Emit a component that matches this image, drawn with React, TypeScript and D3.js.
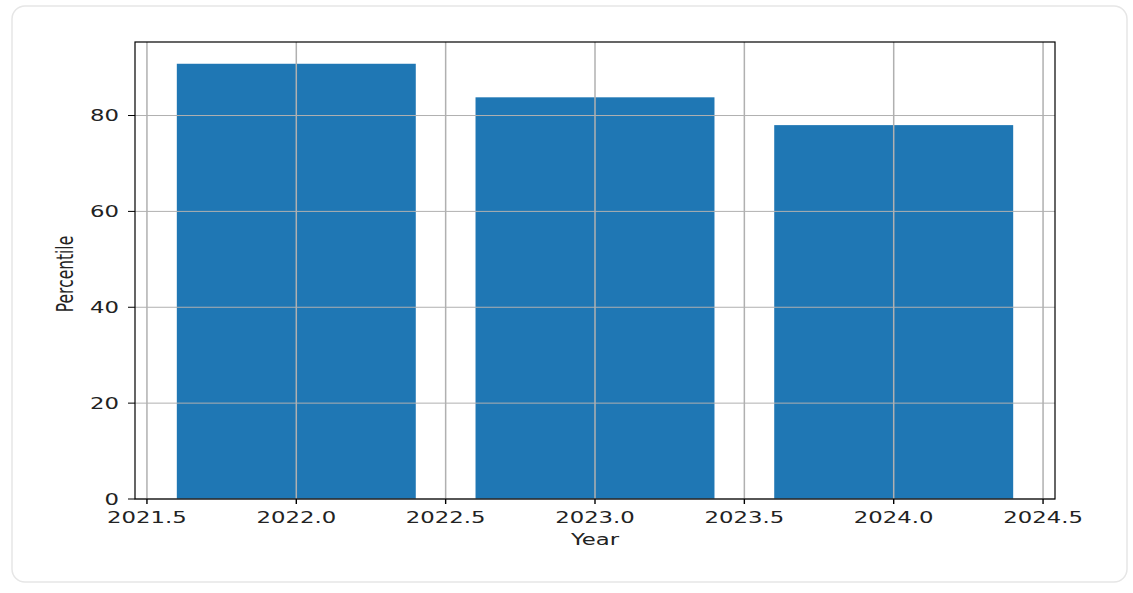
import { useMemo } from 'react'
import * as d3 from 'd3'

const years = [2022, 2023, 2024]
const percentiles = [90.8, 83.8, 78.0]
const xTicks = [2021.5, 2022.0, 2022.5, 2023.0, 2023.5, 2024.0, 2024.5]
const yTicks = [0, 20, 40, 60, 80]

const W = 1133
const H = 593
// the reference is stretched horizontally, so text gets the same stretch
const SX = 1.47
const FONT = 'DejaVu Sans, sans-serif'

export default function App() {
  const left = 135
  const right = 1055
  const top = 42
  const bottom = 499
  const barWidth = 0.8

  const x = useMemo(() => {
    const lo = d3.min(years)! - barWidth / 2
    const hi = d3.max(years)! + barWidth / 2
    const pad = (hi - lo) * 0.05
    return d3.scaleLinear().domain([lo - pad, hi + pad]).range([left, right])
  }, [])

  const y = useMemo(() => {
    const hi = d3.max(percentiles)! * 1.05
    return d3.scaleLinear().domain([0, hi]).range([bottom, top])
  }, [])

  const grid = '#b0b0b0'

  return (
    <div style={{ position: 'fixed', left: 0, top: 0 }}>
      <svg width={W} height={H} style={{ display: 'block', background: '#fff' }}>
        <rect x={12} y={6} width={1115} height={576} rx={13} fill="#fff" stroke="#e6e6e6" strokeWidth={1.5} />

        {/* bars */}
        {years.map((yr, i) => (
          <rect
            key={yr}
            x={x(yr - barWidth / 2)}
            y={y(percentiles[i])}
            width={x(yr + barWidth / 2) - x(yr - barWidth / 2)}
            height={y(0) - y(percentiles[i])}
            fill="#1f77b4"
          />
        ))}

        {/* grid */}
        {xTicks.map((t) => (
          <line key={'gx' + t} x1={x(t)} x2={x(t)} y1={top} y2={bottom} stroke={grid} strokeWidth={1.5} />
        ))}
        {yTicks.map((t) => (
          <line key={'gy' + t} x1={left} x2={right} y1={y(t)} y2={y(t)} stroke={grid} strokeWidth={1} />
        ))}

        {/* spines */}
        <rect x={left} y={top} width={right - left} height={bottom - top} fill="none" stroke="#000" strokeWidth={1.2} />

        {/* x ticks */}
        {xTicks.map((t) => (
          <g key={'tx' + t}>
            <line x1={x(t)} x2={x(t)} y1={bottom} y2={bottom + 5} stroke="#000" strokeWidth={1.4} />
            <text
              transform={`translate(${x(t)},${bottom + 24}) scale(${SX},1)`}
              textAnchor="middle"
              fontFamily={FONT}
              fontSize={15.5}
              fill="#222"
            >
              {t.toFixed(1)}
            </text>
          </g>
        ))}

        {/* y ticks */}
        {yTicks.map((t) => (
          <g key={'ty' + t}>
            <line x1={left - 7} x2={left} y1={y(t)} y2={y(t)} stroke="#000" strokeWidth={1} />
            <text
              transform={`translate(${left - 16},${y(t) + 5.5}) scale(${SX},1)`}
              textAnchor="end"
              fontFamily={FONT}
              fontSize={15.5}
              fill="#222"
            >
              {t}
            </text>
          </g>
        ))}

        {/* axis labels */}
        <text
          transform={`translate(${(left + right) / 2},${bottom + 46}) scale(${SX},1)`}
          textAnchor="middle"
          fontFamily={FONT}
          fontSize={15.5}
          fill="#222"
        >
          Year
        </text>
        <text
          transform={`translate(73,274) scale(${SX},1) rotate(-90)`}
          textAnchor="middle"
          fontFamily={FONT}
          fontSize={15.5}
          fill="#222"
        >
          Percentile
        </text>
      </svg>
    </div>
  )
}
